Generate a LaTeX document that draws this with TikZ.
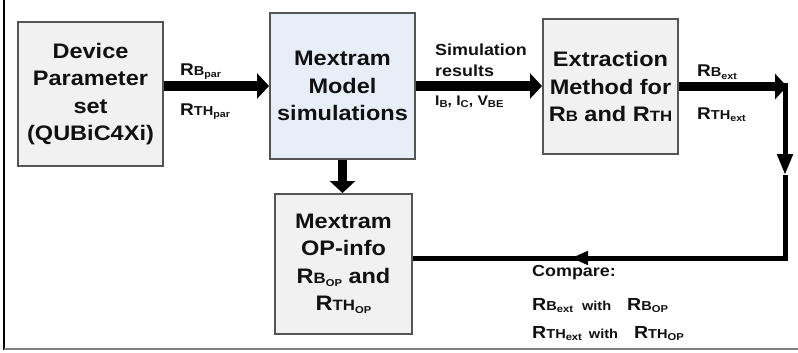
\documentclass[tikz,border=0pt]{standalone}
\usepackage{fontspec}
\setmainfont{Liberation Sans}[FakeStretch=1.12]
\usetikzlibrary{arrows.meta}
\definecolor{boxgray}{HTML}{F1F1F1}
\definecolor{boxblue}{HTML}{E8EEF8}
\definecolor{edgegray}{HTML}{555555}
\definecolor{txt}{HTML}{111111}
\newcommand\RX[6]{{\fontsize{#1}{#1}\selectfont R}{\fontsize{#2}{#2}\selectfont #4}{\fontsize{#3}{#3}\selectfont\raisebox{-#6pt}{#5}}}
\newcommand\SubT[2]{#1{\fontsize{10}{10}\selectfont\raisebox{-2pt}{#2}}}
\begin{document}
\begin{tikzpicture}[x=1pt,y=-1pt,
  blk/.style={draw=edgegray, line width=2pt, fill=boxgray, align=center, inner sep=0pt, text=txt,
    font={\fontsize{21}{27.5}\selectfont\bfseries}},
  lbl/.style={anchor=base west, inner sep=0pt, text=txt, font=\bfseries},
  fat/.style={line width=9pt, -{Triangle[length=12pt,width=25pt]}},
  slim/.style={line width=5pt}]
\useasboundingbox (0,0) rectangle (798,353);
% frame
\draw[black, line width=1.5pt] (4,0) -- (4,349.5);
\draw[gray, line width=2pt] (4,349) -- (798,349);
% boxes
\node[blk, minimum width=145pt, minimum height=144pt] (dev) at (90.5,94) {Device\\Parameter\\set\\(QUBiC4Xi)};
\node[blk, fill=boxblue, minimum width=145pt, minimum height=146.5pt] (mm) at (342.5,86) {Mextram\\Model\\simulations};
\node[blk, minimum width=135pt, minimum height=135pt] (ex) at (610.5,86.5) {Extraction\\Method for\\\RX{21}{15}{10}{B}{}{0} and \RX{21}{15}{10}{TH}{}{0}};
\node[blk, minimum width=137pt, minimum height=140pt] (op) at (343.5,264) {Mextram\\OP-info\\\RX{21}{15}{10}{B}{OP}{3} and\\\RX{21}{15}{10}{TH}{OP}{3}};
% connectors
\draw[fat] (dev.east |- mm.west) -- (mm.west);
\draw[fat] (mm.east) -- (mm.east -| ex.west);
\coordinate (c1) at (787,86.5);
\coordinate (c1t) at (785,83);
\coordinate (m1) at (785,175);
\coordinate (c2) at (785,258);
\coordinate (m2) at (571,258);
\draw[fat] (ex.east) -- (c1);
\draw[slim, -{Triangle[length=21pt,width=15pt]}] (c1t) -- (m1);
\draw[slim] (m1) -- (c2) -- (op.east |- c2);
\draw[slim, -{Triangle[length=17pt,width=13pt]}] (c2) -- (m2);
\draw[fat] (mm.south) -- (mm.south |- op.north);
% labels
\node[lbl] (lp1) at (180,75) {\RX{17}{13}{9.5}{B}{par}{2.5}};
\node[lbl] (lp2) at (180,115) {\RX{17}{13}{9.5}{TH}{par}{2.5}};
\node[lbl, font={\fontsize{16}{16}\selectfont\bfseries}] (s1) at (435,56) {Simulation};
\node[lbl, font={\fontsize{16}{16}\selectfont\bfseries}] (s2) at (435,77) {results};
\node[lbl, font={\fontsize{14}{14}\selectfont\bfseries}] (s3) at (435,105) {\SubT{I}{B}, \SubT{I}{C}, \SubT{V}{BE}};
\node[lbl] (le1) at (697,77) {\RX{17}{13}{9.5}{B}{ext}{2.5}};
\node[lbl] (le2) at (697,119) {\RX{17}{13}{9.5}{TH}{ext}{2.5}};
\node[lbl, font={\fontsize{16}{16}\selectfont\bfseries}] (cmp) at (532,276) {Compare:};
\node[lbl] (cr1) at (532,310) {\RX{17.5}{13}{10}{B}{ext}{2.5}\hspace{9pt}{\fontsize{13}{13}\selectfont with}\hspace{16pt}\RX{17.5}{13}{10}{B}{OP}{2.5}};
\node[lbl] (cr2) at (532,338) {\RX{17.5}{13}{10}{TH}{ext}{2.5}\hspace{7pt}{\fontsize{13}{13}\selectfont with}\hspace{16pt}\RX{17.5}{13}{10}{TH}{OP}{2.5}};
\end{tikzpicture}
\end{document}
